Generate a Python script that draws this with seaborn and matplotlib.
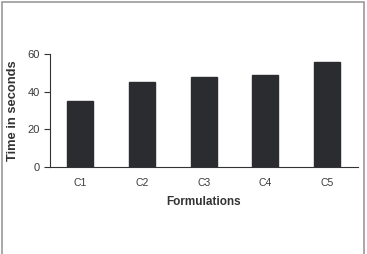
import matplotlib
matplotlib.use("Agg")
import matplotlib.pyplot as plt
import seaborn as sns
import pandas as pd
from matplotlib.patches import Rectangle

categories = ["C1", "C2", "C3", "C4", "C5"]
times = [35, 45, 48, 49, 56]
yticks = [0, 20, 40, 60]

sns.set_style("white")
plt.rcParams['font.family'] = ['Liberation Sans', 'DejaVu Sans']

df = pd.DataFrame({"Formulations": categories, "Time": times})

fig = plt.figure(figsize=(3.67, 2.54), dpi=100)
ax = fig.add_axes([0.135, 0.344, 0.84, 0.443])
sns.barplot(data=df, x="Formulations", y="Time", color="#2b2c30", width=0.42,
            saturation=1, ax=ax, edgecolor="#2b2c30")

ax.set_xlim(-0.5, 4.5)
ax.set_ylim(0, 60)
ax.set_yticks(yticks)
ax.set_yticklabels([str(v) for v in yticks], fontsize=8, color="#3a3a3a")
ax.set_xticks(range(len(categories)))
ax.set_xticklabels(categories, fontsize=7.5, color="#3a3a3a")
ax.tick_params(axis="x", which="major", length=0, pad=8)
ax.set_xticks([i - 0.5 for i in range(len(categories) + 1)], minor=True)
ax.tick_params(axis="x", which="minor", length=5, width=0.8, color="#333333", direction="out")
ax.tick_params(axis="y", length=4, width=0.8, color="#333333", direction="out", left=True, pad=3)

for s in ["top", "right"]:
    ax.spines[s].set_visible(False)
for s in ["left", "bottom"]:
    ax.spines[s].set_color("#333333")
    ax.spines[s].set_linewidth(0.8)

ax.set_xlabel("Formulations", fontsize=8.5, fontweight="bold", color="#333333", labelpad=6)
ax.set_ylabel("Time in seconds", fontsize=9.3, fontweight="bold", color="#333333", labelpad=6)

fig.patches.append(Rectangle((2/367, -0.05), (364-2)/367, 1 - 2/254 + 0.05,
                             transform=fig.transFigure, fill=False,
                             edgecolor="#999999", linewidth=1.2))

fig.savefig("out.png", dpi=100)
